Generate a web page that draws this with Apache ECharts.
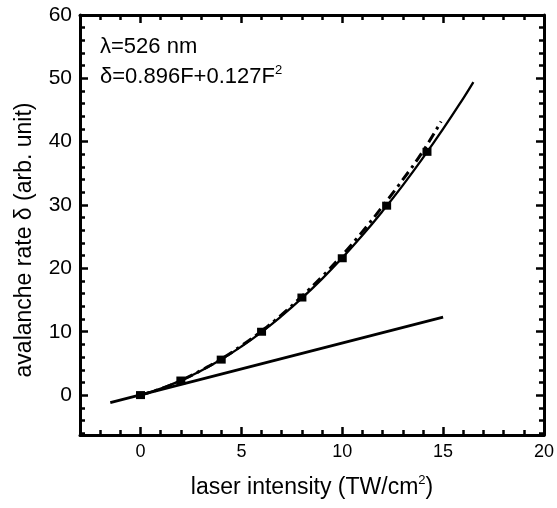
<!DOCTYPE html>
<html>
<head>
<meta charset="utf-8">
<script src="https://cdn.jsdelivr.net/npm/echarts@6/dist/echarts.min.js"></script>
<style>
  html, body { margin: 0; padding: 0; background: #fff; }
  #chart { width: 557px; height: 508px; }
</style>
</head>
<body>
<div id="chart"></div>
<script>
// values
const fitF = [0, 1, 2, 3, 4, 5, 6, 7, 8, 9, 10, 11, 12, 13, 14, 15, 16, 16.5];
const fitSolid = [0, 1.02, 2.3, 3.83, 5.62, 7.66, 9.95, 12.5, 15.3, 18.35, 21.66, 25.22, 29.04, 33.11, 37.44, 42.02, 46.85, 49.4];

const dashF = [0, 1, 2, 3, 4, 5, 6, 7, 8, 9, 10, 11, 12, 13, 14, 14.9];
const dashVals = [0, 1.0, 2.3, 3.9, 5.7, 7.8, 10.1, 12.7, 15.6, 18.7, 22.1, 25.8, 29.8, 34.0, 38.5, 43.2];

const dataF = [0, 2, 4, 6, 8, 10, 12.2, 14.2];
const dataVals = [0, 2.3, 5.6, 10.0, 15.4, 21.6, 29.9, 38.4];

const linF = [-1.5, 15];
const linVals = [-1.2, 12.3];

const xMajor = [0, 5, 10, 15, 20];
const xMinor = [-2, -1, 1, 2, 3, 4, 6, 7, 8, 9, 11, 12, 13, 14, 16, 17, 18, 19];
const yMajor = [0, 10, 20, 30, 40, 50, 60];
const yMinor = [-6, -4, -2, 2, 4, 6, 8, 12, 14, 16, 18, 22, 24, 26, 28, 32, 34, 36, 38, 42, 44, 46, 48, 52, 54, 56, 58];

const FONT = 'Liberation Sans, Arial, Helvetica, sans-serif';
const pairs = (xs, ys) => xs.map((x, i) => [x, ys[i]]);

const chart = echarts.init(document.getElementById('chart'));

function xAxisDef(position, ticks, len, withLine, withLabel) {
  return {
    type: 'value', position: position, min: -3, max: 20,
    axisLine: { show: withLine, onZero: false, lineStyle: { color: '#000', width: 3 } },
    axisTick: { show: true, inside: true, length: len, customValues: ticks,
      lineStyle: { color: '#000', width: 2.5 } },
    axisLabel: withLabel
      ? { show: true, customValues: ticks, color: '#000', fontSize: 18, fontFamily: FONT, margin: 8 }
      : { show: false },
    splitLine: { show: false }
  };
}

function yAxisDef(position, ticks, len, withLine, withLabel) {
  return {
    type: 'value', position: position, min: -6.3, max: 60,
    axisLine: { show: withLine, onZero: false, lineStyle: { color: '#000', width: 3 } },
    axisTick: { show: true, inside: true, length: len, customValues: ticks,
      lineStyle: { color: '#000', width: 2.5 } },
    axisLabel: withLabel
      ? { show: true, customValues: ticks, color: '#000', fontSize: 21, fontFamily: FONT, margin: 8 }
      : { show: false },
    splitLine: { show: false }
  };
}

chart.setOption({
  backgroundColor: '#fff',
  animation: false,
  grid: { left: 80, right: 10, top: 15, bottom: 73 },
  xAxis: [
    xAxisDef('bottom', xMajor, 8, true, true),
    xAxisDef('bottom', xMinor, 5, false, false),
    xAxisDef('top', xMajor, 8, true, false),
    xAxisDef('top', xMinor, 5, false, false)
  ],
  yAxis: [
    yAxisDef('left', yMajor, 8, true, true),
    yAxisDef('left', yMinor, 5, false, false),
    yAxisDef('right', yMajor, 8, true, false),
    yAxisDef('right', yMinor, 5, false, false)
  ],
  graphic: [
    {
      type: 'text', x: 100, y: 36,
      style: { text: 'λ=526 nm', fill: '#000', font: '22px ' + FONT }
    },
    {
      type: 'text', x: 100, y: 64,
      style: {
        text: '{m|δ=0.896F+0.127F}{s|2}', fill: '#000',
        rich: {
          m: { fontSize: 22, fontFamily: FONT, fill: '#000', lineHeight: 26 },
          s: { fontSize: 13, fontFamily: FONT, fill: '#000', verticalAlign: 'top', lineHeight: 26 }
        }
      }
    },
    {
      type: 'text', x: 312, y: 488,
      style: {
        text: '{m|laser intensity (TW/cm}{s|2}{m|)}', align: 'center', verticalAlign: 'middle', fill: '#000',
        rich: {
          m: { fontSize: 23, fontFamily: FONT, fill: '#000', lineHeight: 28 },
          s: { fontSize: 13, fontFamily: FONT, fill: '#000', verticalAlign: 'top', lineHeight: 28 }
        }
      }
    },
    {
      type: 'text', x: 25, y: 240, rotation: Math.PI / 2,
      style: {
        text: 'avalanche rate δ (arb. unit)', align: 'center', verticalAlign: 'middle',
        fill: '#000', font: '23px ' + FONT
      }
    }
  ],
  series: [
    {
      type: 'line', data: pairs(linF, linVals), showSymbol: false,
      lineStyle: { color: '#000', width: 2.8 }, z: 3
    },
    {
      type: 'line', data: pairs(fitF, fitSolid), showSymbol: false, smooth: true,
      lineStyle: { color: '#000', width: 2.3 }, z: 3
    },
    {
      type: 'line', data: pairs(dashF, dashVals), showSymbol: false, smooth: true,
      lineStyle: { color: '#000', width: 3, type: [10, 5, 3, 5] }, z: 3
    },
    {
      type: 'scatter', data: pairs(dataF, dataVals), symbol: 'rect', symbolSize: [9, 8],
      itemStyle: { color: '#000', opacity: 1 }, z: 4
    }
  ]
});
</script>
</body>
</html>
